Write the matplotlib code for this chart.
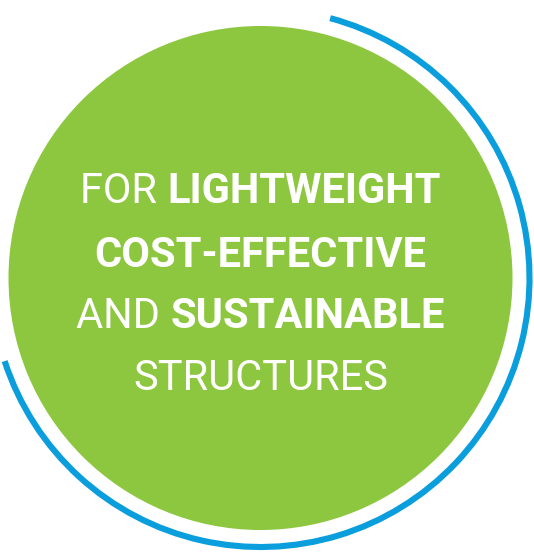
import matplotlib
matplotlib.use("Agg")
import matplotlib.pyplot as plt
from matplotlib.patches import Circle, Arc

# text content: each line is a list of (text, weight) pieces
line_texts = [
    [("FOR ", "normal"), ("LIGHTWEIGHT", "bold")],
    [("COST-EFFECTIVE", "bold")],
    [("AND ", "normal"), ("SUSTAINABLE", "bold")],
    [("STRUCTURES", "normal")],
]
line_baselines = [203, 267, 328, 390]

green = "#8DC63F"
blue = "#0A9EDC"

W, H = 534, 552
fig = plt.figure(figsize=(W / 100, H / 100), dpi=100)
ax = fig.add_axes([0, 0, 1, 1])
ax.set_xlim(0, W)
ax.set_ylim(H, 0)
ax.set_aspect("equal")
ax.axis("off")

cx, cy = 260.5, 278
ax.add_patch(Circle((cx, cy), 252, facecolor=green, edgecolor="none"))
# outer blue arc (y axis inverted, so angles run clockwise on screen)
ax.add_patch(Arc((cx, cy), 2 * 269, 2 * 269, theta1=-75, theta2=162,
                 color=blue, lw=4.4, capstyle="butt"))

fig.canvas.draw()
renderer = fig.canvas.get_renderer()
fsize = 30
for parts, base in zip(line_texts, line_baselines):
    # measure pieces first so the whole line can be centred
    widths = []
    for txt, wt in parts:
        t = ax.text(0, 0, txt, fontsize=fsize, family="Roboto", weight=wt)
        widths.append(t.get_window_extent(renderer).width)
        t.remove()
    x = cx - sum(widths) / 2
    for (txt, wt), w in zip(parts, widths):
        ax.text(x, base, txt, fontsize=fsize, family="Roboto", weight=wt,
                color="white", ha="left", va="baseline")
        x += w

fig.savefig("out.png", dpi=100)
